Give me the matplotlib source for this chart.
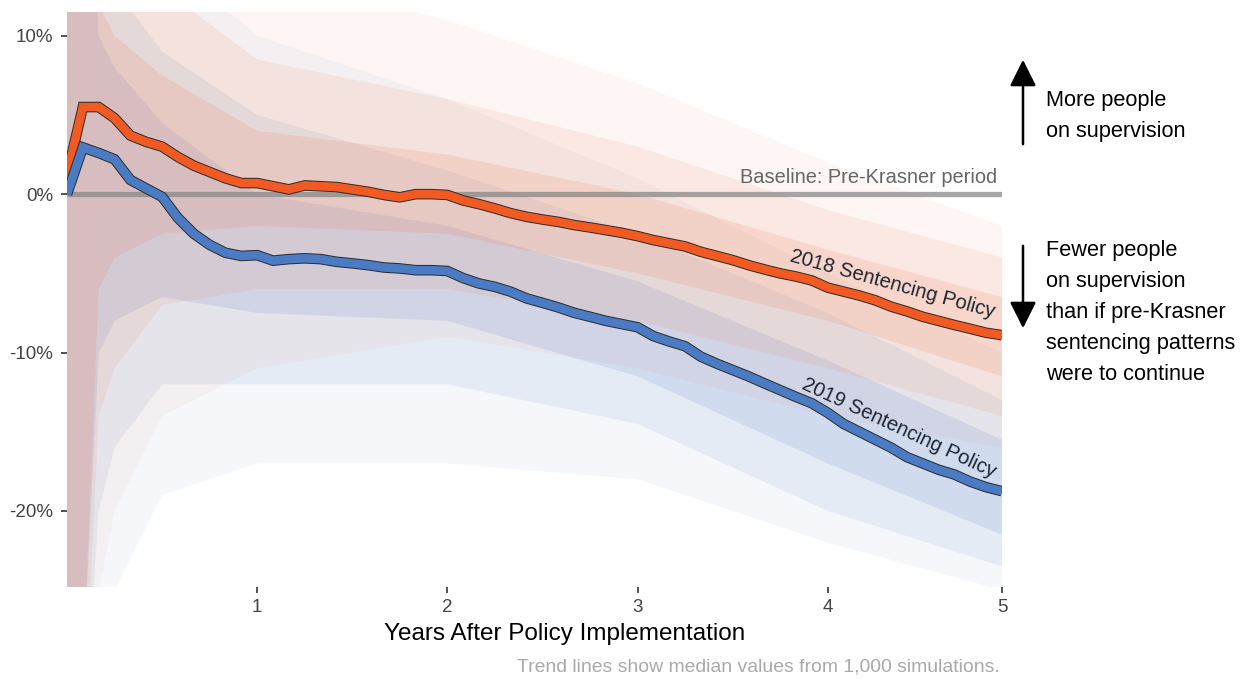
import matplotlib
matplotlib.use("Agg")
import matplotlib.pyplot as plt
import matplotlib.patheffects as pe

plt.rcParams['font.family'] = ['Liberation Sans', 'DejaVu Sans']

# ---------------- data (percent change vs. baseline) ----------------
months = list(range(60))
median_2018 = [1.2, 5.5, 5.5, 4.8, 3.7, 3.3, 3.0, 2.35, 1.8, 1.4,
               1.0, 0.7, 0.7, 0.5, 0.3, 0.55, 0.5, 0.45, 0.3, 0.15,
               -0.05, -0.2, 0.0, 0.0, -0.05, -0.4, -0.63, -0.9, -1.2, -1.43,
               -1.6, -1.75, -1.95, -2.1, -2.27, -2.44, -2.65, -2.9, -3.1, -3.3,
               -3.64, -3.9, -4.16, -4.48, -4.75, -5.0, -5.2, -5.45, -5.9, -6.15,
               -6.4, -6.7, -7.1, -7.4, -7.74, -8.0, -8.26, -8.5, -8.75, -8.9]
median_2019 = [0.0, 2.95, 2.6, 2.2, 0.9, 0.36, -0.17, -1.5, -2.5, -3.2,
               -3.7, -3.9, -3.85, -4.2, -4.1, -4.05, -4.1, -4.27, -4.37, -4.48,
               -4.63, -4.69, -4.8, -4.8, -4.85, -5.3, -5.64, -5.85, -6.16, -6.58,
               -6.86, -7.15, -7.49, -7.74, -8.0, -8.2, -8.4, -8.96, -9.3, -9.6,
               -10.26, -10.7, -11.1, -11.5, -11.94, -12.37, -12.8, -13.2, -13.8, -14.5,
               -15.0, -15.5, -16.0, -16.6, -17.0, -17.4, -17.7, -18.15, -18.5, -18.75]

# spread of the 1,000 simulations
band_months = [0, 1, 2, 3, 6, 12, 24, 36, 48, 59]
sim2018_p05 = [-40, -40, -25, -20, -14, -11, -9, -11, -14, -16]
sim2018_p15 = [-35, -35, -14, -11, -7, -6, -6, -8, -11, -14]
sim2018_p30 = [-30, -30, -6, -4, -2.5, -2, -2.5, -5, -8, -11.5]
sim2018_p70 = [30, 30, 12, 10, 7.5, 4, 2.5, 0, -3.5, -6.5]
sim2018_p85 = [35, 35, 20, 17, 13, 8.5, 6, 3, -1, -4]
sim2018_p95 = [40, 40, 30, 25, 20, 14, 11, 7, 2, -2]
sim2019_p05 = [-40, -40, -30, -25, -19, -17, -17, -18, -22, -25]
sim2019_p15 = [-35, -35, -20, -16, -12, -12, -12, -14.5, -20, -23.5]
sim2019_p30 = [-30, -30, -10, -8, -6.5, -7.5, -8, -11.5, -17, -21.5]
sim2019_p70 = [30, 30, 10, 8, 4.5, 0, -2, -5.5, -10.5, -15.5]
sim2019_p85 = [35, 35, 16, 13, 9, 5, 1.5, -2.5, -7.5, -13]
sim2019_p95 = [40, 40, 25, 20, 15, 10, 6, 1, -5, -10]

xtick_pos = [12, 24, 36, 48, 59]
xtick_labels = ['1', '2', '3', '4', '5']
ytick_pos = [10, 0, -10, -20]
ytick_labels = ['10%', '0%', '-10%', '-20%']
baseline = [0, 0]
baseline_x = [0, 59]

# ---------------- figure ----------------
W, H = 1245, 679
fig = plt.figure(figsize=(W / 100, H / 100), dpi=100)
ax = fig.add_axes([67 / W, (H - 587) / H, 935 / W, 575 / H])

ORANGE = '#F15A22'
BLUE = '#4A7BC3'
C_OR = '#EE7448'
C_BL = '#5B83C6'

# simulation clouds (layered quantile bands)
for lo, hi, a in [(sim2019_p05, sim2019_p95, 0.06),
                  (sim2019_p15, sim2019_p85, 0.10),
                  (sim2019_p30, sim2019_p70, 0.15)]:
    ax.fill_between(band_months, lo, hi, color=C_BL, alpha=a, lw=0, zorder=1)
for lo, hi, a in [(sim2018_p05, sim2018_p95, 0.06),
                  (sim2018_p15, sim2018_p85, 0.10),
                  (sim2018_p30, sim2018_p70, 0.15)]:
    ax.fill_between(band_months, lo, hi, color=C_OR, alpha=a, lw=0, zorder=1)

# baseline
ax.plot(baseline_x, baseline, color='#888888', lw=3.8, alpha=0.75, solid_capstyle='butt', zorder=2)
ax.text(58.7, 0.45, 'Baseline: Pre-Krasner period', ha='right', va='bottom',
        fontsize=14.4, color='#666666', zorder=3)

# median lines
outline = [pe.Stroke(linewidth=7.6, foreground='#2a2a2a'), pe.Normal()]
ax.plot(months, median_2018, color=ORANGE, lw=6.2, zorder=4, path_effects=outline,
        solid_joinstyle='miter', solid_capstyle='butt')
ax.plot(months, median_2019, color=BLUE, lw=6.2, zorder=4, path_effects=outline,
        solid_joinstyle='miter', solid_capstyle='butt')

ax.text(52.1, -5.65, '2018 Sentencing Policy', rotation=-15.5, rotation_mode='anchor',
        ha='center', va='center', fontsize=14.6, color='#1c2633', zorder=5)
ax.text(52.5, -14.8, '2019 Sentencing Policy', rotation=-25, rotation_mode='anchor',
        ha='center', va='center', fontsize=14.6, color='#1c2633', zorder=5)

ax.set_xlim(0, 59)
ax.set_ylim(-24.8, 11.5)
for s in ax.spines.values():
    s.set_visible(False)
ax.set_xticks(xtick_pos)
ax.set_xticklabels(xtick_labels)
ax.set_yticks(ytick_pos)
ax.set_yticklabels(ytick_labels)
ax.tick_params(axis='both', length=4, width=1.2, color='#333333', labelsize=13.5,
               labelcolor='#444444')
ax.tick_params(axis='y', pad=6)
ax.tick_params(axis='x', pad=5)

# axis title & footnote
fig.text(565 / W, 1 - 634 / H, 'Years After Policy Implementation', ha='center', va='center',
         fontsize=17.5, color='black')
fig.text(1000 / W, 1 - 667 / H, 'Trend lines show median values from 1,000 simulations.',
         ha='right', va='center', fontsize=13.95, color='#aaaaaa')

# right-hand annotations
fig.add_artist(matplotlib.patches.FancyArrowPatch(
    (1023 / W, 1 - 147 / H), (1023 / W, 1 - 57 / H), transform=fig.transFigure,
    arrowstyle='-|>,head_length=0.9,head_width=0.45', mutation_scale=18, lw=1.8, color='black'))
fig.add_artist(matplotlib.patches.FancyArrowPatch(
    (1023 / W, 1 - 243 / H), (1023 / W, 1 - 331 / H), transform=fig.transFigure,
    arrowstyle='-|>,head_length=0.9,head_width=0.45', mutation_scale=18, lw=1.8, color='black'))
fig.text(1046 / W, 1 - 90 / H, 'More people\non supervision', ha='left', va='top',
         fontsize=15.7, color='black', linespacing=1.62)
fig.text(1046 / W, 1 - 240 / H,
         'Fewer people\non supervision\nthan if pre-Krasner\nsentencing patterns\nwere to continue',
         ha='left', va='top', fontsize=15.7, color='black', linespacing=1.62)

fig.savefig('out.png', dpi=100)
